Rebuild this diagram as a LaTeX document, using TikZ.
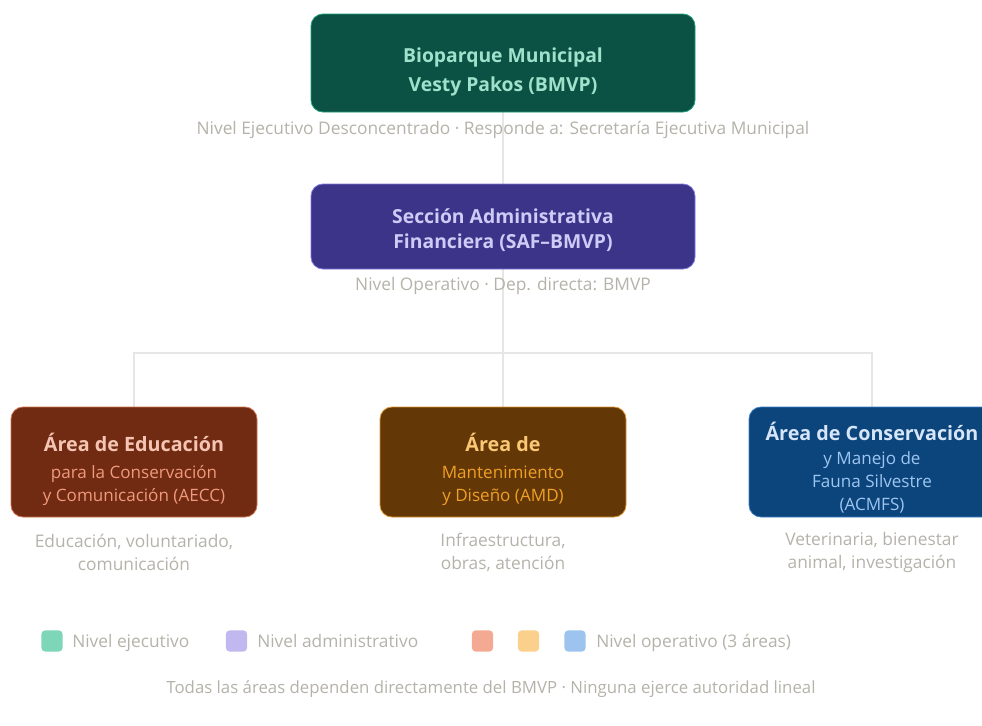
\documentclass[tikz,border=0pt]{standalone}
\usepackage{fontspec}
\setmainfont{Open Sans}
\usetikzlibrary{positioning, backgrounds}

\definecolor{execfill}{HTML}{0B5244}
\definecolor{execline}{HTML}{1D9E75}
\definecolor{exectext}{HTML}{9FE1CB}
\definecolor{admfill}{HTML}{3C3489}
\definecolor{admline}{HTML}{7F77DD}
\definecolor{admtext}{HTML}{CECBF6}
\definecolor{edufill}{HTML}{712B13}
\definecolor{eduline}{HTML}{D0704E}
\definecolor{edutitle}{HTML}{F5C4B3}
\definecolor{edusub}{HTML}{F0997B}
\definecolor{manfill}{HTML}{633806}
\definecolor{manline}{HTML}{D9912A}
\definecolor{mantitle}{HTML}{FAC775}
\definecolor{mansub}{HTML}{EF9F27}
\definecolor{confill}{HTML}{0C447C}
\definecolor{conline}{HTML}{3A7FC4}
\definecolor{contitle}{HTML}{D6E6F8}
\definecolor{consub}{HTML}{9DC6F0}
\definecolor{captext}{HTML}{B4B2A9}
\definecolor{wire}{HTML}{E6E6E4}
\definecolor{keyexec}{HTML}{7DD6B8}
\definecolor{keyadm}{HTML}{C0B8EE}
\definecolor{keyedu}{HTML}{F4AA92}
\definecolor{keyman}{HTML}{FAD08C}
\definecolor{keycon}{HTML}{9CC4EE}

% strut that pushes a box text down
\newcommand{\pushdown}[1]{\rule{0pt}{#1}}

\tikzset{
  unitbox/.style={rounded corners=9pt, line width=0.6pt, align=center, inner sep=0pt},
  topbox/.style={unitbox, minimum width=288pt, minimum height=73.5pt},
  areabox/.style={unitbox, minimum width=184.5pt, minimum height=82.5pt,
    font=\fontsize{12.8}{17.25}\selectfont},
  caption/.style={text=captext, align=center, font=\fontsize{13}{17.25}\selectfont},
  wireline/.style={draw=wire, line width=1pt},
  keysq/.style={rounded corners=3pt, minimum width=16pt, minimum height=16pt, inner sep=0pt},
  keytext/.style={text=captext, anchor=base west, inner sep=0pt, font=\fontsize{13}{15}\selectfont},
}

\begin{document}
\begin{tikzpicture}[x=0.75pt, y=-0.75pt]
\useasboundingbox (0,0) rectangle (982,725);

% executive level
\node[topbox, fill=execfill, draw=execline, text=exectext,
  font=\bfseries\fontsize{14.5}{21.75}\selectfont] (bmvp) at (503,63)
  {\pushdown{24.5pt}Bioparque Municipal\\Vesty Pakos (BMVP)};
\node[caption] (bmvpcap) at (503,130)
  {Nivel Ejecutivo Desconcentrado · Responde a: Secretaría Ejecutiva Municipal};

% administrative section
\node[topbox, minimum height=63.75pt, fill=admfill, draw=admline, text=admtext,
  font=\bfseries\fontsize{14.5}{18.75}\selectfont] (saf) at (503,226.5)
  {\pushdown{16.7pt}Sección Administrativa\\Financiera (SAF–BMVP)};
\node[caption] (safcap) at (503,286)
  {Nivel Operativo · Dep. directa: BMVP};

% three areas
\node[areabox, fill=edufill, draw=eduline] (aecc) at (134,462)
  {\pushdown{24.7pt}{\bfseries\fontsize{14.8}{17.25}\selectfont\color{edutitle}Área de Educación}\\[2.75pt]
   {\color{edusub}para la Conservación}\\
   {\color{edusub}y Comunicación (AECC)}};
\node[areabox, fill=manfill, draw=manline] (amd) at (503,462)
  {\pushdown{24.7pt}{\bfseries\fontsize{14.8}{17.25}\selectfont\color{mantitle}Área de}\\[2.75pt]
   {\color{mansub}Mantenimiento}\\
   {\color{mansub}y Diseño (AMD)}};
\node[areabox, fill=confill, draw=conline] (acmfs) at (872,462)
  {\pushdown{22.5pt}{\bfseries\fontsize{14.8}{17.25}\selectfont\color{contitle}Área de Conservación}\\[0.75pt]
   {\color{consub}y Manejo de}\\
   {\color{consub}Fauna Silvestre}\\
   {\color{consub}(ACMFS)}};

\node[caption] (aecccap) at (134,552) {Educación, voluntariado,\\comunicación};
\node[caption] (amdcap) at (503,552) {Infraestructura,\\obras, atención};
\node[caption] (acmfscap) at (872,552) {Veterinaria, bienestar\\animal, investigación};

% connectors
\coordinate (bar) at (503,353);
\begin{scope}[on background layer]
\draw[wireline] (bmvp.south) -- (saf.north);
\draw[wireline] (saf.south) -- (bar);
\draw[wireline] (bar) -| (aecc.north);
\draw[wireline] (bar) -| (acmfs.north);
\draw[wireline] (bar) -- (amd.north);
\end{scope}

% legend
\node[keysq, fill=keyexec] (kexec) at (52,641) {};
\node[keytext] (kexectxt) at (72,647) {Nivel ejecutivo};
\node[keysq, fill=keyadm] (kadm) at (236.5,641) {};
\node[keytext] (kadmtxt) at (257,647) {Nivel administrativo};
\node[keysq, fill=keyedu] (kedu) at (482.5,641) {};
\node[keysq, fill=keyman] (kman) at (528.5,641) {};
\node[keysq, fill=keycon] (kcon) at (575,641) {};
\node[keytext] (kcontxt) at (596,647) {Nivel operativo (3 áreas)};

\node[text=captext, font=\fontsize{12.6}{15}\selectfont] (note) at (491,689)
  {Todas las áreas dependen directamente del BMVP · Ninguna ejerce autoridad lineal};

\end{tikzpicture}
\end{document}
